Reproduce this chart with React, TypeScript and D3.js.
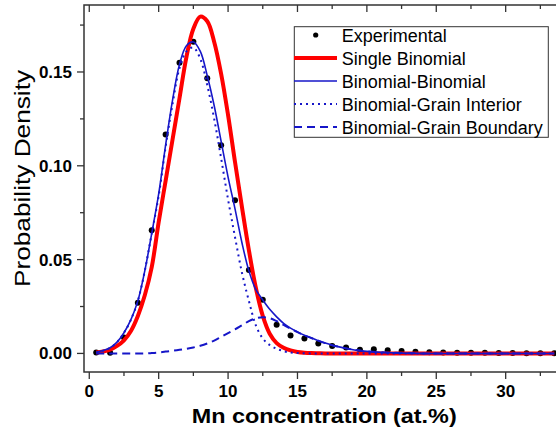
import React from "react";
import * as d3 from "d3";

// ---- data ----
const expX = [0.5, 1.5, 2.5, 3.5, 4.5, 5.5, 6.5, 7.5, 8.5, 9.5, 10.5, 11.5, 12.5, 13.5, 14.5, 15.5, 16.5, 17.5, 18.5, 19.5, 20.5, 21.5, 22.5, 23.5, 24.5, 25.5, 26.5, 27.5, 28.5, 29.5, 30.5, 31.5, 32.5, 33.5];
const expY = [0.0005, 0.0003, 0.0085, 0.027, 0.0657, 0.1167, 0.1549, 0.1661, 0.1466, 0.111, 0.0817, 0.0444, 0.0286, 0.0153, 0.0096, 0.008, 0.0053, 0.0039, 0.0031, 0.002, 0.0022, 0.0017, 0.0013, 0.0009, 0.0006, 0.0005, 0.0004, 0.0003, 0.0003, 0.0002, 0.0002, 0.0001, 0.0001, 0.0001];

const curveX = [0.5, 1, 1.5, 2, 2.5, 3, 3.5, 4, 4.5, 5, 5.5, 6, 6.5, 7, 7.5, 8, 8.5, 9, 9.5, 10, 10.5, 11, 11.5, 12, 12.5, 13, 13.5, 14, 14.5, 15, 15.5, 16, 16.5, 17, 17.5, 18, 18.5, 19, 19.5, 20, 21, 22, 23, 24, 33.5];

const singleBinomial = [0.0005, 0.001, 0.002, 0.004, 0.007, 0.012, 0.02, 0.031, 0.046, 0.07, 0.092, 0.114, 0.136, 0.158, 0.173, 0.1795, 0.177, 0.166, 0.149, 0.127, 0.102, 0.078, 0.055, 0.035, 0.02, 0.0105, 0.0055, 0.003, 0.0016, 0.0008, 0.0004, 0.0002, 0.0001, 0, 0, 0, 0, 0, 0, 0, 0, 0, 0, 0, 0];

const binomialBinomial = [0.0005, 0.0015, 0.003, 0.006, 0.011, 0.018, 0.028, 0.044, 0.064, 0.085, 0.111, 0.135, 0.154, 0.164, 0.166, 0.161, 0.148, 0.132, 0.113, 0.094, 0.077, 0.059, 0.044, 0.034, 0.0285, 0.0235, 0.0195, 0.016, 0.0135, 0.0115, 0.0097, 0.0082, 0.0068, 0.0055, 0.0044, 0.0035, 0.0027, 0.002, 0.0015, 0.0011, 0.0006, 0.0003, 0.0001, 0, 0];

const grainInterior = [0.0005, 0.0015, 0.003, 0.006, 0.011, 0.018, 0.028, 0.044, 0.064, 0.084, 0.11, 0.133, 0.152, 0.161, 0.163, 0.157, 0.143, 0.125, 0.104, 0.082, 0.062, 0.043, 0.028, 0.015, 0.008, 0.0045, 0.0025, 0.0012, 0.0005, 0.0002, 0.0001, 0, 0, 0, 0, 0, 0, 0, 0, 0, 0, 0, 0, 0, 0];

const grainBoundary = [0, 0, 0, 0, 0, 0, 0, 0, 0.0002, 0.0005, 0.001, 0.0014, 0.0019, 0.0025, 0.0032, 0.0041, 0.0053, 0.0068, 0.0088, 0.0108, 0.0128, 0.015, 0.0172, 0.0187, 0.0193, 0.0188, 0.0172, 0.0152, 0.0132, 0.0113, 0.0096, 0.0082, 0.0068, 0.0055, 0.0044, 0.0035, 0.0027, 0.002, 0.0015, 0.0011, 0.0006, 0.0003, 0.0001, 0, 0];

const xMajorTicks = [0, 5, 10, 15, 20, 25, 30];
const xMinorTicks = [2.5, 7.5, 12.5, 17.5, 22.5, 27.5, 32.5];
const yMajorTicks = [0, 0.05, 0.1, 0.15];
const yMinorTicks = [0.025, 0.075, 0.125, 0.175];

const legendLabels = ["Experimental", "Single Binomial", "Binomial-Binomial", "Binomial-Grain Interior", "Binomial-Grain Boundary"];

const xTitle = "Mn concentration (at.%)";
const yTitle = "Probability Density";

const FONT = "'Liberation Sans', Arial, Helvetica, sans-serif";
const BLUE = "#1616c8";
const RED = "#ff0000";

export default function App() {
  const W = 556;
  const H = 428;
  const left = 84, top = 5, bottom = 372;
  const x = d3.scaleLinear().domain([-0.38, 34]).range([left, left + 34.38 * 13.88]);
  const y = d3.scaleLinear().domain([-0.0099, 0.1857]).range([bottom, top]);
  const right = x(34);

  const mkLine = (vals: number[]) =>
    d3
      .line<number>()
      .x((_, i) => x(curveX[i]))
      .y((v) => y(v))
      .curve(d3.curveCatmullRom.alpha(0.5))(vals) || "";

  const fmt = d3.format(".2f");

  const legX = 294.3, legY = 26.7, legW = 254, legH = 110.6;
  const rowY = (i: number) => 35 + i * 23;
  const symX0 = 294, symX1 = 337;

  return (
    <svg width={W} height={H} style={{ position: "absolute", left: 0, top: 0, background: "#fff" }} fontFamily={FONT}>
      <rect x={0} y={0} width={W} height={H} fill="#fff" />
      <defs>
        <clipPath id="plotClip">
          <rect x={left} y={top} width={right - left} height={bottom - top} />
        </clipPath>
      </defs>

      <g clipPath="url(#plotClip)">
        {expX.map((v, i) => (
          <circle key={i} cx={x(v)} cy={y(expY[i])} r={3} fill="#000" />
        ))}
        <path d={mkLine(singleBinomial)} fill="none" stroke={RED} strokeWidth={4} strokeLinejoin="round" />
        <path d={mkLine(grainBoundary)} fill="none" stroke={BLUE} strokeWidth={2} strokeDasharray="8,5" />
        <path d={mkLine(grainInterior)} fill="none" stroke={BLUE} strokeWidth={2} strokeDasharray="2,4" />
        <path d={mkLine(binomialBinomial)} fill="none" stroke={BLUE} strokeWidth={1.6} />
      </g>

      <rect x={left} y={top} width={right - left} height={bottom - top} fill="none" stroke="#333" strokeWidth={1.5} />

      {xMajorTicks.map((t) => (
        <g key={"xM" + t}>
          <line x1={x(t)} x2={x(t)} y1={bottom} y2={bottom + 7} stroke="#333" strokeWidth={1.3} />
          <line x1={x(t)} x2={x(t)} y1={top} y2={top + 7} stroke="#333" strokeWidth={1.3} />
          <text x={x(t)} y={397} textAnchor="middle" fontSize={17} fontWeight="bold" fill="#000">
            {t}
          </text>
        </g>
      ))}
      {xMinorTicks.map((t) => (
        <g key={"xm" + t}>
          <line x1={x(t)} x2={x(t)} y1={bottom} y2={bottom + 4} stroke="#333" strokeWidth={1.3} />
          <line x1={x(t)} x2={x(t)} y1={top} y2={top + 4} stroke="#333" strokeWidth={1.3} />
        </g>
      ))}

      {yMajorTicks.map((t) => (
        <g key={"yM" + t}>
          <line x1={left - 7} x2={left} y1={y(t)} y2={y(t)} stroke="#333" strokeWidth={1.3} />
          <text x={72} y={y(t) + 6} textAnchor="end" fontSize={17} fontWeight="bold" fill="#000">
            {fmt(t)}
          </text>
        </g>
      ))}
      {yMinorTicks.map((t) => (
        <line key={"ym" + t} x1={left - 4} x2={left} y1={y(t)} y2={y(t)} stroke="#333" strokeWidth={1.3} />
      ))}

      <text x={191.7} y={423} fontSize={20} fontWeight="bold" textLength={265} lengthAdjust="spacingAndGlyphs" fill="#000">
        {xTitle}
      </text>
      <text
        transform={`translate(30,178.5) rotate(-90)`}
        textAnchor="middle"
        fontSize={22}
        textLength={217}
        lengthAdjust="spacingAndGlyphs"
        fill="#000"
      >
        {yTitle}
      </text>

      <rect x={legX} y={legY} width={legW} height={legH} fill="#fff" stroke="#333" strokeWidth={1} />
      <circle cx={315.7} cy={rowY(0)} r={2.6} fill="#000" />
      <line x1={symX0} x2={symX1} y1={rowY(1)} y2={rowY(1)} stroke={RED} strokeWidth={4} />
      <line x1={symX0} x2={symX1} y1={rowY(2)} y2={rowY(2)} stroke={BLUE} strokeWidth={1.6} />
      <line x1={symX0} x2={symX1} y1={rowY(3)} y2={rowY(3)} stroke={BLUE} strokeWidth={2} strokeDasharray="2,4" />
      <line x1={symX0} x2={symX1} y1={rowY(4)} y2={rowY(4)} stroke={BLUE} strokeWidth={2} strokeDasharray="8,5" />
      {legendLabels.map((l, i) => (
        <text key={l} x={341.7} y={rowY(i) + 6.5} fontSize={18} fill="#000">
          {l}
        </text>
      ))}
    </svg>
  );
}
